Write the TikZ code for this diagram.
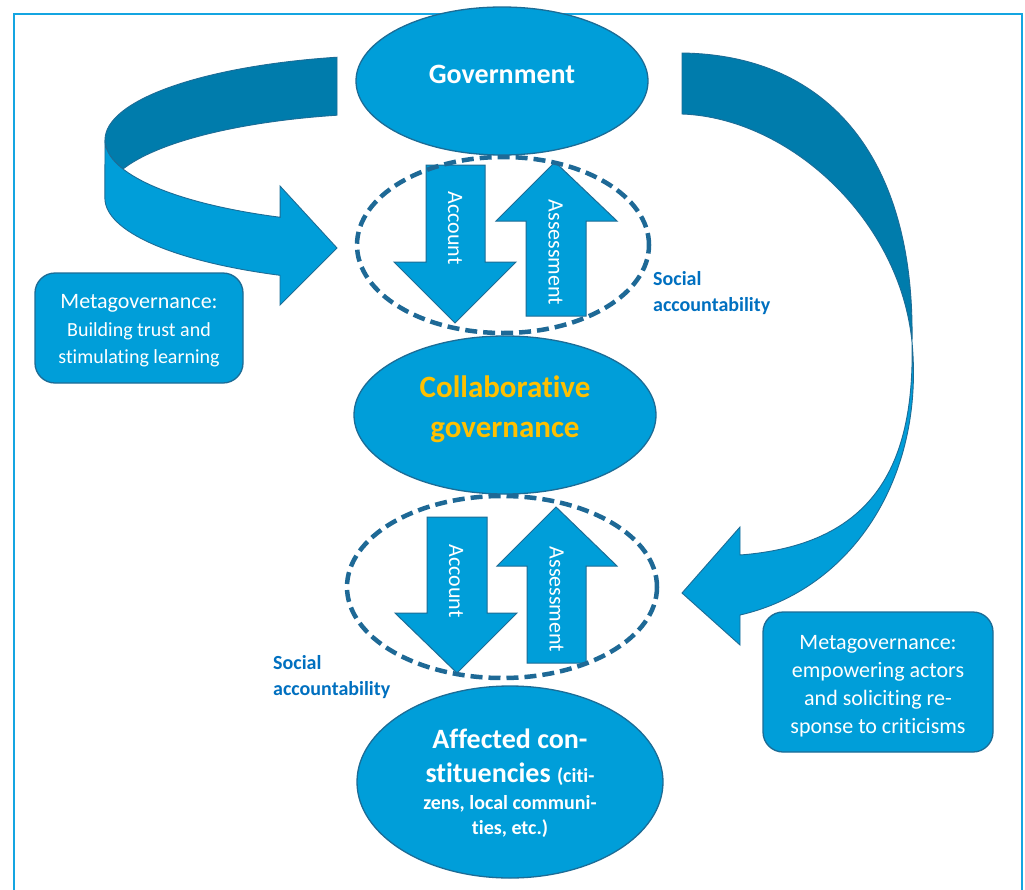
\documentclass[tikz,border=0pt]{standalone}
\usepackage{fontspec}
\setmainfont{Carlito}[Ligatures={NoCommon}]
\usetikzlibrary{shapes.geometric}
\definecolor{lightfill}{RGB}{0,158,217}
\definecolor{darkfill}{RGB}{0,124,172}
\definecolor{edgeblue}{RGB}{28,108,150}
\definecolor{dashblue}{RGB}{30,105,150}
\definecolor{labelblue}{RGB}{0,112,192}
\definecolor{goldtext}{RGB}{255,192,0}
\definecolor{framecol}{RGB}{20,165,225}
\begin{document}
\begin{tikzpicture}[x=1pt,y=-1pt,
  bigell/.style={ellipse, draw=edgeblue, line width=1.3pt, fill=lightfill, inner sep=0pt},
  dashell/.style={ellipse, draw=dashblue, line width=4.5pt, dash pattern=on 12pt off 6pt, inner sep=0pt},
  mbox/.style={rectangle, rounded corners=20pt, draw=edgeblue, line width=1.3pt, fill=lightfill, inner sep=0pt},
  ribbonlight/.style={fill=lightfill, draw=edgeblue, line width=0.9pt},
  ribbondark/.style={fill=darkfill, draw=edgeblue, line width=0.9pt},
  smallarrow/.style={fill=lightfill, draw=edgeblue, line width=1pt},
  vlabel/.style={text=white, font=\fontsize{22}{26}\selectfont, rotate=-90, inner sep=0pt},
  salabel/.style={text=labelblue, font=\fontsize{20}{26}\selectfont\bfseries, align=left, anchor=west, inner sep=0pt},
  boxtext/.style={text=white, font=\fontsize{22}{28}\selectfont, align=center, inner sep=0pt},
  elltext/.style={text=white, font=\fontsize{28}{34}\selectfont\bfseries, align=center, inner sep=0pt}
]
\useasboundingbox (0,0) rectangle (1025,889);
\fill[white] (0,0) rectangle (1025,889);
% frame
\draw[framecol, line width=2pt] (13.5,900) -- (13.5,14) -- (1022,14) -- (1022,900);

% left curved ribbon arrow
\path[ribbondark] (337,57.2)
  arc[start angle=103.1, end angle=180, x radius=300pt, y radius=85pt]
  arc[start angle=180, end angle=199.95, x radius=300pt, y radius=85pt]
  arc[start angle=160.05, end angle=103.1, x radius=300pt, y radius=85pt]
  -- cycle;
\path[ribbonlight] (105,140)
  arc[start angle=180, end angle=245.4, x radius=300pt, y radius=85pt]
  -- (280,186) -- (337,248) -- (280,305) -- (280,275.3)
  arc[start angle=245.4, end angle=180, x radius=300pt, y radius=85pt]
  -- cycle;

% right curved ribbon arrow
\path[ribbondark] (682,53) .. controls (830,55) and (915,160) .. (912,342)
  .. controls (900,220) and (790,118) .. (682,114) -- cycle;
\path[ribbonlight] (912,342) .. controls (925,480) and (850,590) .. (740,615)
  -- (740,645) -- (682,593) -- (740,527) -- (740,555)
  .. controls (870,545) and (915,470) .. (912,342) -- cycle;

% main ellipses
\node[bigell, minimum width=292pt, minimum height=148pt] (gov) at (502,81) {};
\node[bigell, minimum width=302pt, minimum height=158pt] (collab) at (505,415) {};
\node[bigell, minimum width=306pt, minimum height=192pt] (aff) at (510,782) {};

\node[elltext] (govtext) at (502,74) {Government};
\node[elltext, text=goldtext, font=\fontsize{31}{40}\selectfont\bfseries] (collabtext) at (505,409.5) {Collaborative\\governance};
\node[elltext] (afftext) at (510,783) {Affected con-\\stituencies {\fontsize{20}{34}\selectfont(citi-}\\[-7pt]{\fontsize{20}{34}\selectfont zens, local communi-}\\[-9pt]{\fontsize{20}{34}\selectfont ties, etc.)}};

% metagovernance boxes
\node[mbox, minimum width=208pt, minimum height=110pt] (lbox) at (139,328) {};
\node[boxtext] (lboxtext) at (139,330.4) {Metagovernance:\\{\fontsize{20}{28}\selectfont Building trust and}\\[-1pt]{\fontsize{20}{28}\selectfont stimulating learning}};
\node[mbox, minimum width=230pt, minimum height=140pt] (rbox) at (878,682) {};
\node[boxtext] (rboxtext) at (878,686.5) {Metagovernance:\\empowering actors\\and soliciting re-\\sponse to criticisms};

% upper account / assessment arrows
\path[smallarrow] (426,165) -- (485,165) -- (485,262) -- (516,262) -- (455,323) -- (394,262) -- (426,262) -- cycle;
\path[smallarrow] (555,162) -- (617,221) -- (586,221) -- (586,316) -- (526,316) -- (526,221) -- (496,221) -- cycle;
\node[vlabel] (acc1) at (455,228) {Account};
\node[vlabel] (ass1) at (555.5,252.5) {Assessment};

% lower account / assessment arrows
\path[smallarrow] (427,517) -- (487,517) -- (487,613) -- (517,613) -- (457,673) -- (395,613) -- (427,613) -- cycle;
\path[smallarrow] (556,507) -- (617,566) -- (586,566) -- (586,663) -- (527,663) -- (527,566) -- (497,566) -- cycle;
\node[vlabel] (acc2) at (456,581) {Account};
\node[vlabel] (ass2) at (556.5,599.5) {Assessment};

% social accountability dashed ellipses
\node[dashell, minimum width=292pt, minimum height=176pt] (sa1) at (503,245) {};
\node[dashell, minimum width=310pt, minimum height=182pt] (sa2) at (502,587) {};

\node[salabel] (sa1text) at (653,293) {Social\\accountability};
\node[salabel] (sa2text) at (273,677) {Social\\accountability};
\end{tikzpicture}
\end{document}
